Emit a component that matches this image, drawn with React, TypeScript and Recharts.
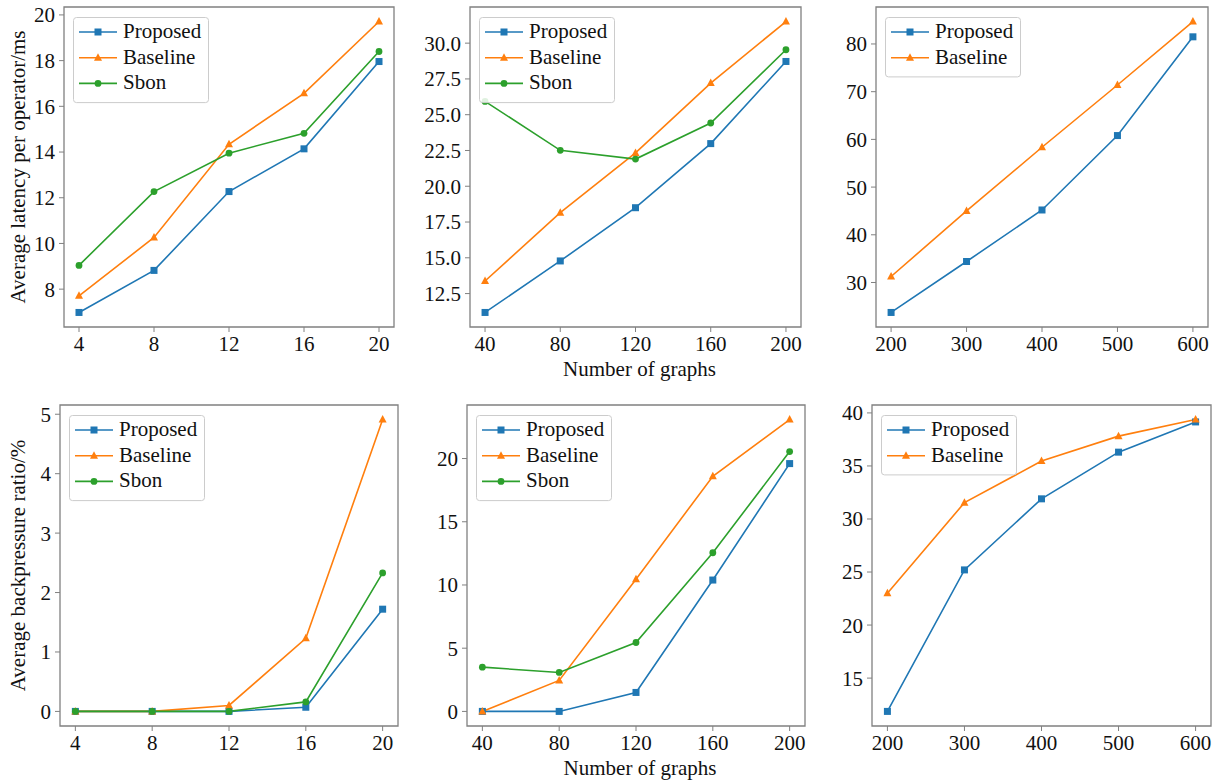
import React from 'react';
import { LineChart, Line, XAxis, YAxis, ReferenceArea, Legend } from 'recharts';

const FONT = '"Liberation Serif", "Times New Roman", serif';
const FRAME = '#808080';
const TEXT = '#111111';

// x categories
const graphsSmall = [4, 8, 12, 16, 20];
const graphsMedium = [40, 80, 120, 160, 200];
const graphsLarge = [200, 300, 400, 500, 600];

// average latency per operator (ms)
const latencySmallProposed = [6.98, 8.82, 12.27, 14.14, 17.96];
const latencySmallBaseline = [7.71, 10.26, 14.34, 16.57, 19.71];
const latencySmallSbon = [9.04, 12.27, 13.95, 14.82, 18.4];

const latencyMediumProposed = [11.18, 14.78, 18.5, 22.98, 28.72];
const latencyMediumBaseline = [13.38, 18.15, 22.33, 27.21, 31.51];
const latencyMediumSbon = [25.93, 22.51, 21.9, 24.42, 29.54];

const latencyLargeProposed = [23.72, 34.4, 45.2, 60.8, 81.5];
const latencyLargeBaseline = [31.26, 45.0, 58.35, 71.4, 84.7];

// average backpressure ratio (%)
const backpressureSmallProposed = [0, 0, 0, 0.07, 1.72];
const backpressureSmallBaseline = [0, 0, 0.1, 1.23, 4.91];
const backpressureSmallSbon = [0, 0, 0, 0.16, 2.33];

const backpressureMediumProposed = [0, 0, 1.5, 10.39, 19.6];
const backpressureMediumBaseline = [0, 2.45, 10.45, 18.6, 23.08];
const backpressureMediumSbon = [3.5, 3.08, 5.45, 12.55, 20.55];

const backpressureLargeProposed = [11.86, 25.2, 31.9, 36.3, 39.15];
const backpressureLargeBaseline = [23.0, 31.54, 35.46, 37.81, 39.37];

// y ticks
const latencySmallTicks = [8, 10, 12, 14, 16, 18, 20];
const latencyMediumTicks = [12.5, 15, 17.5, 20, 22.5, 25, 27.5, 30];
const latencyLargeTicks = [30, 40, 50, 60, 70, 80];
const backpressureSmallTicks = [0, 1, 2, 3, 4, 5];
const backpressureMediumTicks = [0, 5, 10, 15, 20];
const backpressureLargeTicks = [15, 20, 25, 30, 35, 40];

const yLabelLatency = 'Average latency per operator/ms';
const yLabelBackpressure = 'Average backpressure ratio/%';
const xLabel = 'Number of graphs';

type Shape = 'square' | 'triangle' | 'circle';
const SERIES: { key: string; name: string; color: string; shape: Shape }[] = [
  { key: 'proposed', name: 'Proposed', color: '#1f77b4', shape: 'square' },
  { key: 'baseline', name: 'Baseline', color: '#ff7f0e', shape: 'triangle' },
  { key: 'sbon', name: 'Sbon', color: '#2ca02c', shape: 'circle' },
];

const YW = 60;
const MT = 10;
const MR = 10;
const XH = 56;

const pad = (vals: number[]): [number, number] => {
  const lo = Math.min(...vals);
  const hi = Math.max(...vals);
  const r = hi - lo;
  return [lo - r * 0.05, hi + r * 0.05];
};

const drawMarker = (shape: Shape, color: string, cx: number, cy: number, key?: any) => {
  if (shape === 'square')
    return <rect key={key} x={cx - 3.5} y={cy - 3.5} width={7} height={7} fill={color} />;
  if (shape === 'triangle')
    return (
      <polygon
        key={key}
        points={`${cx},${cy - 4.5} ${cx - 4},${cy + 3} ${cx + 4},${cy + 3}`}
        fill={color}
      />
    );
  return <circle key={key} cx={cx} cy={cy} r={3.4} fill={color} />;
};

const markerDot = (shape: Shape, color: string) => (props: any) => {
  const { cx, cy, index } = props;
  if (cx == null || cy == null) return <g key={index} />;
  return drawMarker(shape, color, cx, cy, index);
};

const LegendBox = ({ payload }: any) => {
  const items = [...(payload || [])].sort(
    (a: any, b: any) =>
      SERIES.findIndex((s) => s.key === a.dataKey) - SERIES.findIndex((s) => s.key === b.dataKey)
  );
  const h = 8 + items.length * 25.7;
  return (
    <svg width={137} height={h + 2} style={{ display: 'block' }}>
      <rect x={0.5} y={0.5} width={135} height={h} rx={3} fill="rgba(255,255,255,0.85)" stroke="#cccccc" />
      {items.map((it: any, i: number) => {
        const s = SERIES.find((d) => d.key === it.dataKey)!;
        const cy = 15 + i * 25.7;
        return (
          <g key={s.key}>
            <line x1={6} x2={44} y1={cy} y2={cy} stroke={s.color} strokeWidth={1.6} />
            {drawMarker(s.shape, s.color, 25, cy)}
            <text x={50} y={cy + 6} fontFamily={FONT} fontSize={21} fill={TEXT}>
              {it.value}
            </text>
          </g>
        );
      })}
    </svg>
  );
};

interface PanelProps {
  frame: { l: number; t: number; r: number; b: number };
  xs: number[];
  values: number[][];
  yTicks: number[];
  yDecimals?: number;
  yLabel?: string;
  showXLabel?: boolean;
}

const Panel: React.FC<PanelProps> = ({ frame, xs, values, yTicks, yDecimals = 0, yLabel, showXLabel }) => {
  const data = xs.map((x, i) => {
    const row: any = { x };
    values.forEach((v, s) => {
      row[SERIES[s].key] = v[i];
    });
    return row;
  });
  const xDomain = pad(xs);
  const yDomain = pad(values.flat());
  const chartLeft = frame.l - YW;
  const chartTop = frame.t - MT;
  const width = frame.r - frame.l + YW + MR;
  const height = frame.b - frame.t + MT + XH;
  const tickStyle = { fontSize: 21, fontFamily: FONT, fill: TEXT };

  return (
    <div style={{ position: 'absolute', left: chartLeft, top: chartTop }}>
      <LineChart width={width} height={height} data={data} margin={{ top: MT, right: MR, left: 0, bottom: 0 }}>
        <XAxis
          dataKey="x"
          type="number"
          domain={xDomain}
          ticks={xs}
          interval={0}
          allowDataOverflow
          axisLine={false}
          tickLine={{ stroke: FRAME }}
          tickSize={5}
          tickMargin={4}
          tick={tickStyle}
          height={XH}
          label={
            showXLabel
              ? {
                  content: (p: any) => {
                    const vb = p.viewBox;
                    return (
                      <text
                        x={vb.x + vb.width / 2 + 4}
                        y={vb.y + 48.5}
                        textAnchor="middle"
                        fontFamily={FONT}
                        fontSize={21}
                        fill={TEXT}
                      >
                        {xLabel}
                      </text>
                    );
                  },
                }
              : undefined
          }
        />
        <YAxis
          type="number"
          domain={yDomain}
          ticks={yTicks}
          interval={0}
          allowDataOverflow
          axisLine={false}
          tickLine={{ stroke: FRAME }}
          tickSize={5}
          tickMargin={4}
          tick={tickStyle}
          width={YW}
          tickFormatter={(v: number) => v.toFixed(yDecimals)}
          label={
            yLabel
              ? {
                  content: (p: any) => {
                    const vb = p.viewBox;
                    const lx = 25 - chartLeft;
                    const ly = vb.y + vb.height / 2;
                    return (
                      <text
                        x={lx}
                        y={ly}
                        transform={`rotate(-90, ${lx}, ${ly})`}
                        textAnchor="middle"
                        fontFamily={FONT}
                        fontSize={21}
                        fill={TEXT}
                      >
                        {yLabel}
                      </text>
                    );
                  },
                }
              : undefined
          }
        />
        <ReferenceArea
          x1={xDomain[0]}
          x2={xDomain[1]}
          y1={yDomain[0]}
          y2={yDomain[1]}
          fill="none"
          stroke={FRAME}
          strokeWidth={1.3}
          ifOverflow="visible"
        />
        {values.map((_, s) => (
          <Line
            key={SERIES[s].key}
            type="linear"
            dataKey={SERIES[s].key}
            name={SERIES[s].name}
            stroke={SERIES[s].color}
            strokeWidth={1.6}
            dot={markerDot(SERIES[s].shape, SERIES[s].color)}
            activeDot={false}
            isAnimationActive={false}
          />
        ))}
        <Legend
          layout="vertical"
          align="center"
          verticalAlign="middle"
          content={<LegendBox />}
          wrapperStyle={{ left: YW + 9, top: MT + 9.5, width: 137, height: 90 }}
        />
      </LineChart>
    </div>
  );
};

export default function App() {
  return (
    <div style={{ position: 'absolute', left: 0, top: 0, width: 1218, height: 784, background: '#fff' }}>
      <Panel
        frame={{ l: 64, t: 7, r: 394, b: 327 }}
        xs={graphsSmall}
        values={[latencySmallProposed, latencySmallBaseline, latencySmallSbon]}
        yTicks={latencySmallTicks}
        yLabel={yLabelLatency}
      />
      <Panel
        frame={{ l: 470, t: 7, r: 801, b: 327 }}
        xs={graphsMedium}
        values={[latencyMediumProposed, latencyMediumBaseline, latencyMediumSbon]}
        yTicks={latencyMediumTicks}
        yDecimals={1}
        showXLabel
      />
      <Panel
        frame={{ l: 876, t: 7, r: 1208, b: 327 }}
        xs={graphsLarge}
        values={[latencyLargeProposed, latencyLargeBaseline]}
        yTicks={latencyLargeTicks}
      />
      <Panel
        frame={{ l: 60, t: 405, r: 398, b: 726 }}
        xs={graphsSmall}
        values={[backpressureSmallProposed, backpressureSmallBaseline, backpressureSmallSbon]}
        yTicks={backpressureSmallTicks}
        yLabel={yLabelBackpressure}
      />
      <Panel
        frame={{ l: 467, t: 405, r: 805, b: 726 }}
        xs={graphsMedium}
        values={[backpressureMediumProposed, backpressureMediumBaseline, backpressureMediumSbon]}
        yTicks={backpressureMediumTicks}
        showXLabel
      />
      <Panel
        frame={{ l: 872, t: 405, r: 1211, b: 726 }}
        xs={graphsLarge}
        values={[backpressureLargeProposed, backpressureLargeBaseline]}
        yTicks={backpressureLargeTicks}
      />
    </div>
  );
}
